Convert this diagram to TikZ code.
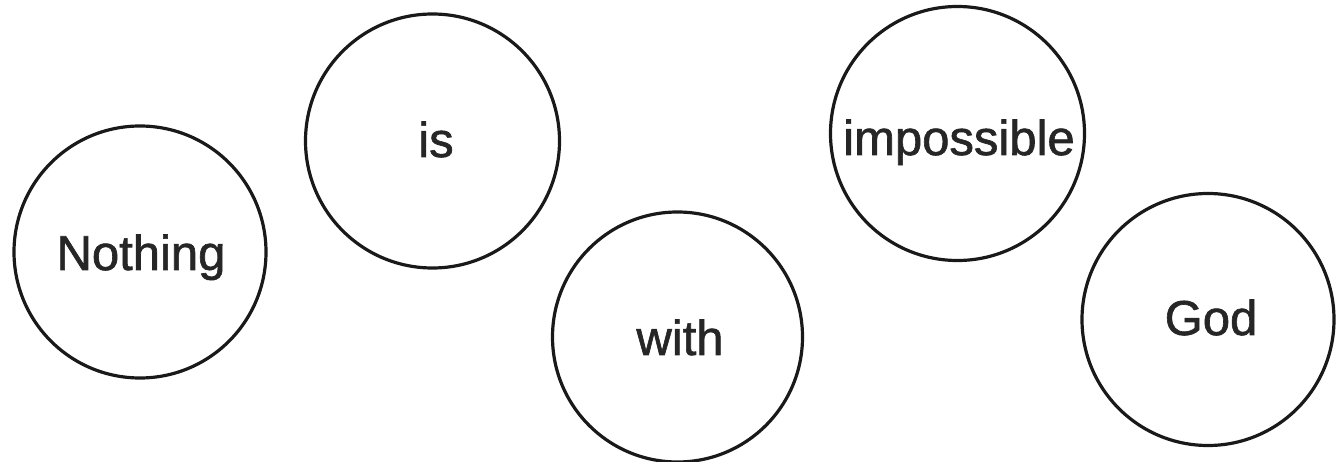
\documentclass[tikz,border=0pt]{standalone}
\usepackage{fontspec}
\setmainfont{Liberation Sans}
\newfontfamily\wordfont{Liberation Sans}[FakeBold=1.3]
\begin{document}
\begin{tikzpicture}[x=1pt,y=-1pt,
  wordcircle/.style={draw=black!90, line width=3.2pt, circle, inner sep=0pt},
  wordtext/.style={font=\wordfont\fontsize{49}{55}\selectfont, text=black!85, anchor=base, inner sep=0pt}]
\useasboundingbox (0,0) rectangle (1339,462);
\node[wordcircle, minimum size=252pt] (c1) at (140,252) {};
\node[wordcircle, minimum size=254pt] (c2) at (432.5,141) {};
\node[wordcircle, minimum size=250pt] (c3) at (677.5,337) {};
\node[wordcircle, minimum size=254pt] (c4) at (957.5,133.5) {};
\node[wordcircle, minimum size=252pt] (c5) at (1208,319.5) {};
\node[wordtext] (t1) at (141,270) {Nothing};
\node[wordtext] (t2) at (436,157) {is};
\node[wordtext] (t3) at (680,355) {with};
\node[wordtext] (t4) at (959,155) {impossible};
\node[wordtext] (t5) at (1211,335) {God};
\end{tikzpicture}
\end{document}
